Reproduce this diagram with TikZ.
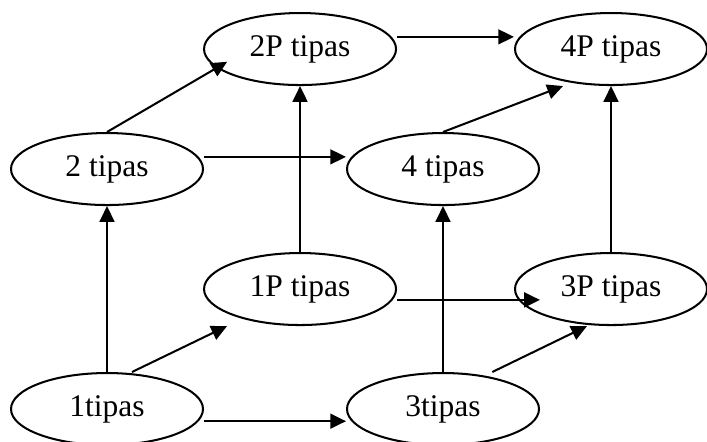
\documentclass[tikz,border=0pt]{standalone}
\usepackage{fontspec}
\setmainfont{Liberation Serif}
\usepackage{tikz}
\usetikzlibrary{arrows.meta,shapes.geometric,positioning}

\begin{document}
\begin{tikzpicture}[
    tipas/.style={draw, ellipse, line width=0.9pt, minimum width=3cm, minimum height=1.125cm, inner sep=0pt, font=\fontsize{14}{16}\selectfont},
    arr/.style={black, line width=0.9pt, -{Triangle[length=7pt,width=6.6pt]}}]

  \useasboundingbox (0,0) rectangle (11.047,6.891);

% NODES
  \node[tipas] (t1)  at (1.672, 0.500) {1tipas};
  \node[tipas] (t3)  at (6.922, 0.500) {3tipas};
  \node[tipas] (t1P) at (4.688, 2.375) {1P tipas};
  \node[tipas] (t3P) at (9.547, 2.375) {3P tipas};
  \node[tipas] (t2)  at (1.672, 4.250) {2 tipas};
  \node[tipas] (t4)  at (6.922, 4.250) {4 tipas};
  \node[tipas] (t2P) at (4.688, 6.125) {2P tipas};
  \node[tipas] (t4P) at (9.547, 6.125) {4P tipas};

% VERTICAL ARROWS
  \draw[arr] (t1.north)  -- (t2.south);
  \draw[arr] (t3.north)  -- (t4.south);
  \draw[arr] (t1P.north) -- (t2P.south);
  \draw[arr] (t3P.north) -- (t4P.south);

% HORIZONTAL ARROWS
  \draw[arr] ([yshift=-0.19cm]t1.east)  -- ([yshift=-0.19cm]t3.west);
  \draw[arr] ([yshift= 0.19cm]t2.east)  -- ([yshift= 0.19cm]t4.west);
  \draw[arr] ([yshift= 0.19cm]t2P.east) -- ([yshift= 0.19cm]t4P.west);
  \draw[arr] ([yshift=-0.17cm]t1P.east) -- ([shift={(-1.11,-0.17)}]t3P.center);

% SLANTED ARROWS
  \draw[arr] ([xshift=0.39cm]t1.north) -- ([xshift=-1.14cm]t1P.south);
  \draw[arr] ([xshift=0.77cm]t3.north) -- ([xshift=-0.375cm]t3P.south);
  \draw[arr] (t2.north) -- ([shift={(-1.14,-0.2)}]t2P.center);
  \draw[arr] (t4.north) -- ([xshift=-0.75cm]t4P.south);

\end{tikzpicture}
\end{document}
